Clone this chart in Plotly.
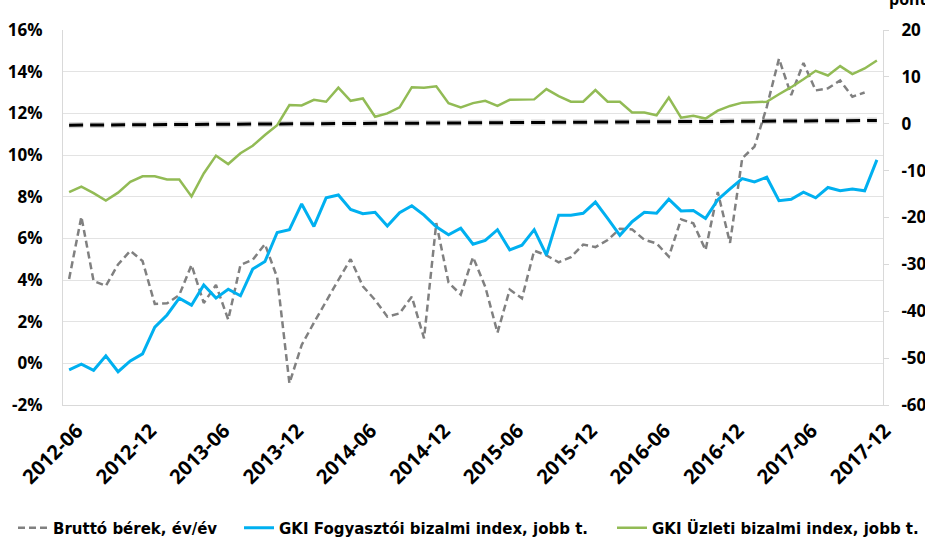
import plotly.graph_objects as go

months = [f"{y}-{m:02d}" for y in range(2012, 2018) for m in range(1, 13)]
months = months[months.index("2012-06"):months.index("2017-12") + 1]

tick_labels = ["2012-06", "2012-12", "2013-06", "2013-12", "2014-06", "2014-12",
               "2015-06", "2015-12", "2016-06", "2016-12", "2017-06", "2017-12"]

left_ticks = [-2, 0, 2, 4, 6, 8, 10, 12, 14, 16]
left_text = ["-2%", "0%", "2%", "4%", "6%", "8%", "10%", "12%", "14%", "16%"]
right_ticks = [-60, -50, -40, -30, -20, -10, 0, 10, 20]
right_text = ["-60", "-50", "-40", "-30", "-20", "-10", "0", "10", "20"]

wages = [4.05, 7.04, 3.95, 3.72, 4.75, 5.40, 4.91, 2.85, 2.88, 3.28, 4.72, 2.90,
         3.76, 2.10, 4.72, 4.97, 5.72, 4.12, -0.96, 0.88, 1.95, 3.0, 4.0, 5.0,
         3.7, 3.04, 2.24, 2.40, 3.20, 1.20, 6.73, 3.88, 3.30, 5.10, 3.68, 1.47,
         3.54, 3.12, 5.41, 5.18, 4.85, 5.10, 5.70, 5.58, 5.92, 6.46, 6.43, 5.93,
         5.76, 5.12, 6.91, 6.72, 5.44, 8.22, 5.78, 9.85, 10.40, 12.3, 14.62, 12.88,
         14.42, 13.10, 13.20, 13.58, 12.80, 13.00, None]

consumer = [-52.5, -51.3, -52.6, -49.5, -52.9, -50.6, -49.1, -43.4, -40.8, -37.2, -38.7, -34.4,
            -37.2, -35.3, -36.7, -31.0, -29.4, -23.2, -22.6, -17.1, -21.9, -15.8, -15.2, -18.3,
            -19.2, -18.9, -21.8, -19.0, -17.5, -19.5, -22.0, -23.7, -22.3, -25.7, -24.9, -22.6,
            -26.9, -25.9, -22.6, -28.0, -19.5, -19.5, -19.1, -16.7, -20.2, -23.8, -20.9, -18.9,
            -19.1, -16.1, -18.6, -18.5, -20.2, -16.2, -13.9, -11.7, -12.4, -11.4, -16.4, -16.1,
            -14.6, -15.8, -13.6, -14.3, -13.9, -14.3, -7.7]

business = [-14.6, -13.4, -14.8, -16.4, -14.7, -12.4, -11.2, -11.2, -11.9, -11.9, -15.5, -10.6,
            -6.8, -8.6, -6.3, -4.7, -2.4, -0.3, 4.0, 3.9, 5.1, 4.7, 7.7, 4.9,
            5.4, 1.5, 2.2, 3.5, 7.8, 7.7, 8.0, 4.4, 3.5, 4.4, 4.9, 3.8,
            5.1, 5.1, 5.2, 7.4, 5.9, 4.7, 4.7, 7.2, 4.7, 4.7, 2.4, 2.4,
            1.8, 5.6, 1.3, 1.7, 1.1, 2.8, 3.8, 4.5, 4.6, 4.7, 6.3, 7.8,
            9.5, 11.3, 10.3, 12.3, 10.6, 11.8, 13.5]

ref_x = [months[0], months[-1]]
ref_line = [-0.3, 0.7]

W, H = 925, 537
TICKFONT = dict(family="Open Sans", size=17, weight="bold", color="#000000")
XFONT = dict(family="Open Sans", size=20, weight="bold", color="#000000")
LEGFONT = dict(family="DejaVu Sans", size=15, weight="bold", color="#000000")

fig = go.Figure()

# reference dashed line (with soft shadow)
fig.add_trace(go.Scatter(x=ref_x, y=ref_line, yaxis="y2", mode="lines", showlegend=False,
                         line=dict(color="rgba(0,0,0,0.16)", width=6, dash="14px,7px"),
                         hoverinfo="skip"))
fig.add_trace(go.Scatter(x=ref_x, y=ref_line, yaxis="y2", mode="lines", showlegend=False,
                         line=dict(color="#000000", width=3, dash="14px,7px")))

fig.add_trace(go.Scatter(x=months, y=wages, name="Bruttó bérek, év/év", mode="lines",
                         legend="legend",
                         line=dict(color="#808080", width=2.5, dash="7px,4px")))
fig.add_trace(go.Scatter(x=months, y=consumer, name="GKI Fogyasztói bizalmi index, jobb t.",
                         yaxis="y2", mode="lines", legend="legend2",
                         line=dict(color="#00b0f0", width=3)))
fig.add_trace(go.Scatter(x=months, y=business, name="GKI Üzleti bizalmi index, jobb t.",
                         yaxis="y2", mode="lines", legend="legend3",
                         line=dict(color="#92bb55", width=2.5)))

def leg(px):
    return dict(orientation="h", xref="container", yref="container",
                x=px / W, xanchor="left", y=(H - 528) / H, yanchor="middle",
                font=LEGFONT, itemwidth=30, bgcolor="rgba(0,0,0,0)")

fig.update_layout(
    width=W, height=H,
    margin=dict(l=63, r=42, t=30, b=132),
    paper_bgcolor="white", plot_bgcolor="white",
    font=dict(family="Open Sans", size=16, color="#000000", weight="bold"),
    xaxis=dict(type="category", categoryorder="array", categoryarray=months,
               range=[-0.5, len(months) - 0.5], automargin=False,
               tickmode="array", tickvals=tick_labels, ticktext=tick_labels,
               tickangle=-45, tickfont=XFONT, ticklabelstandoff=5, ticklabelshift=8,
               showgrid=False, showline=True, linecolor="#d9d9d9", linewidth=1,
               ticks="", zeroline=False),
    yaxis=dict(range=[-2, 16], tickmode="array", tickvals=left_ticks, ticktext=left_text,
               tickfont=TICKFONT, automargin=False,
               showgrid=True, gridcolor="#e3e3e3", gridwidth=1,
               showline=True, linecolor="#d9d9d9", zeroline=False,
               ticks="", ticklabelstandoff=16),
    yaxis2=dict(range=[-60, 20], tickmode="array", tickvals=right_ticks, ticktext=right_text,
                overlaying="y", side="right", automargin=False,
                tickfont=TICKFONT,
                showgrid=False, showline=True, linecolor="#d9d9d9", zeroline=False,
                ticks="outside", ticklen=5, tickcolor="#d9d9d9", ticklabelstandoff=9),
    legend=leg(13),
    legend2=leg(239),
    legend3=leg(612),
    annotations=[dict(text="pont", xref="paper", yref="paper", x=1.005, y=1.048,
                      xanchor="left", yanchor="bottom", showarrow=False,
                      font=dict(family="Open Sans", size=16, weight="bold"))],
)

fig.write_html("out.html", config={"displayModeBar": False},
               post_script="document.body.style.margin='0';document.body.style.overflow='hidden';")
